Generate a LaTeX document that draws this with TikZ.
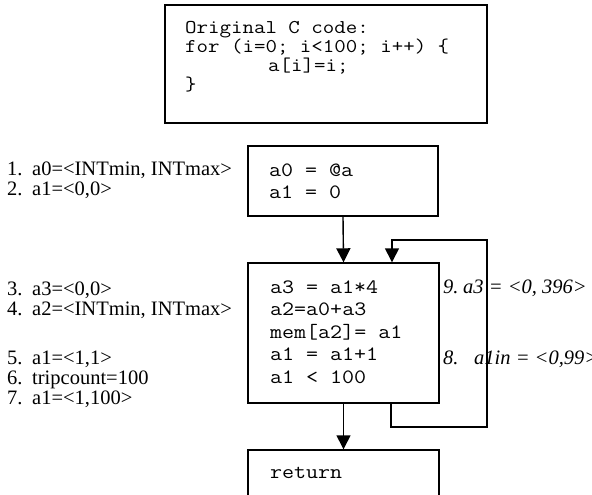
\documentclass[tikz,border=0pt]{standalone}
\usepackage{fontspec}
\setmainfont{Liberation Serif}
\newfontfamily\codefont{Latin Modern Mono}[FakeStretch=1.143]
\usetikzlibrary{arrows.meta}
\begin{document}
\begin{tikzpicture}[x=1pt,y=-1pt,
  box/.style={draw, line width=1.4pt, inner sep=0pt},
  code/.style={font=\codefont\fontsize{20.4}{22}\selectfont, inner sep=0pt, anchor=base west},
  topcode/.style={font=\codefont\fontsize{19.5}{22}\selectfont, inner sep=0pt, anchor=base west},
  lbl/.style={font=\fontsize{20.5}{22}\selectfont, inner sep=0pt, anchor=base west},
  ilbl/.style={font=\itshape\fontsize{20.5}{22}\selectfont, inner sep=0pt, anchor=base west},
  conn/.style={line width=1.4pt, line join=miter},
  arr/.style={conn, -{Triangle[length=14pt,width=14pt]}}]
\useasboundingbox (0,0) rectangle (592,495);
\clip (0,0) rectangle (592,495);
% top box
\node[box, minimum width=322pt, minimum height=118pt] (top) at (326,64) {};
\node[topcode] (t1) at (185,34) {Original C code:};
\node[topcode] (t2) at (185,53) {for (i=0; i<100; i++) \{};
\node[topcode] (t3) at (185,72) {\hspace*{83pt}a[i]=i;};
\node[topcode] (t4) at (185,91) {\}};
% box 2
\node[box, minimum width=190pt, minimum height=70pt] (b2) at (343,181) {};
\node[code] (b2a) at (269,176) {a0 = @a};
\node[code] (b2b) at (269,198) {a1 = 0};
% box 3
\node[box, minimum width=191pt, minimum height=140pt] (b3) at (343.5,333) {};
\node[code] (b3a) at (270,293) {a3 = a1*4};
\node[code] (b3b) at (270,315.5) {a2=a0+a3};
\node[code] (b3c) at (270,338) {mem[a2]= a1};
\node[code] (b3d) at (270,360.5) {a1 = a1+1};
\node[code] (b3e) at (270,383) {a1 < 100};
% box 4
\node[box, minimum width=191pt, minimum height=100pt] (b4) at (343.5,500) {};
\node[code] (b4a) at (270,478) {return};
% connectors
\draw[arr] (b2.south) -- (b3.north);
\draw[arr] (b3.south) -- (b4.north);
\coordinate (lp1) at (391,427);
\coordinate (lp2) at (487,427);
\coordinate (lp3) at (487,240);
\coordinate (lp4) at (392,240);
\draw[arr] (b3.south -| lp1) -- (lp1) -- (lp2) -- (lp3) -- (lp4) -- (lp4 |- b3.north);
% left labels
\node[lbl] (l1) at (7,175) {\makebox[25pt][l]{1.}a0=<INTmin, INTmax>};
\node[lbl] (l2) at (7,195) {\makebox[25pt][l]{2.}a1=<0,0>};
\node[lbl] (l3) at (7,295) {\makebox[25pt][l]{3.}a3=<0,0>};
\node[lbl] (l4) at (7,315) {\makebox[25pt][l]{4.}a2=<INTmin, INTmax>};
\node[lbl] (l5) at (7,364) {\makebox[25pt][l]{5.}a1=<1,1>};
\node[lbl] (l6) at (7,384) {\makebox[25pt][l]{6.}tripcount=100};
\node[lbl] (l7) at (7,404) {\makebox[25pt][l]{7.}a1=<1,100>};
% right labels
\node[ilbl] (r9) at (443,293) {\makebox[20pt][l]{9.}a3 = <0, 396>};
\node[ilbl] (r8) at (443,364) {\makebox[31pt][l]{8.}a1in = <0,99>};
\end{tikzpicture}
\end{document}
